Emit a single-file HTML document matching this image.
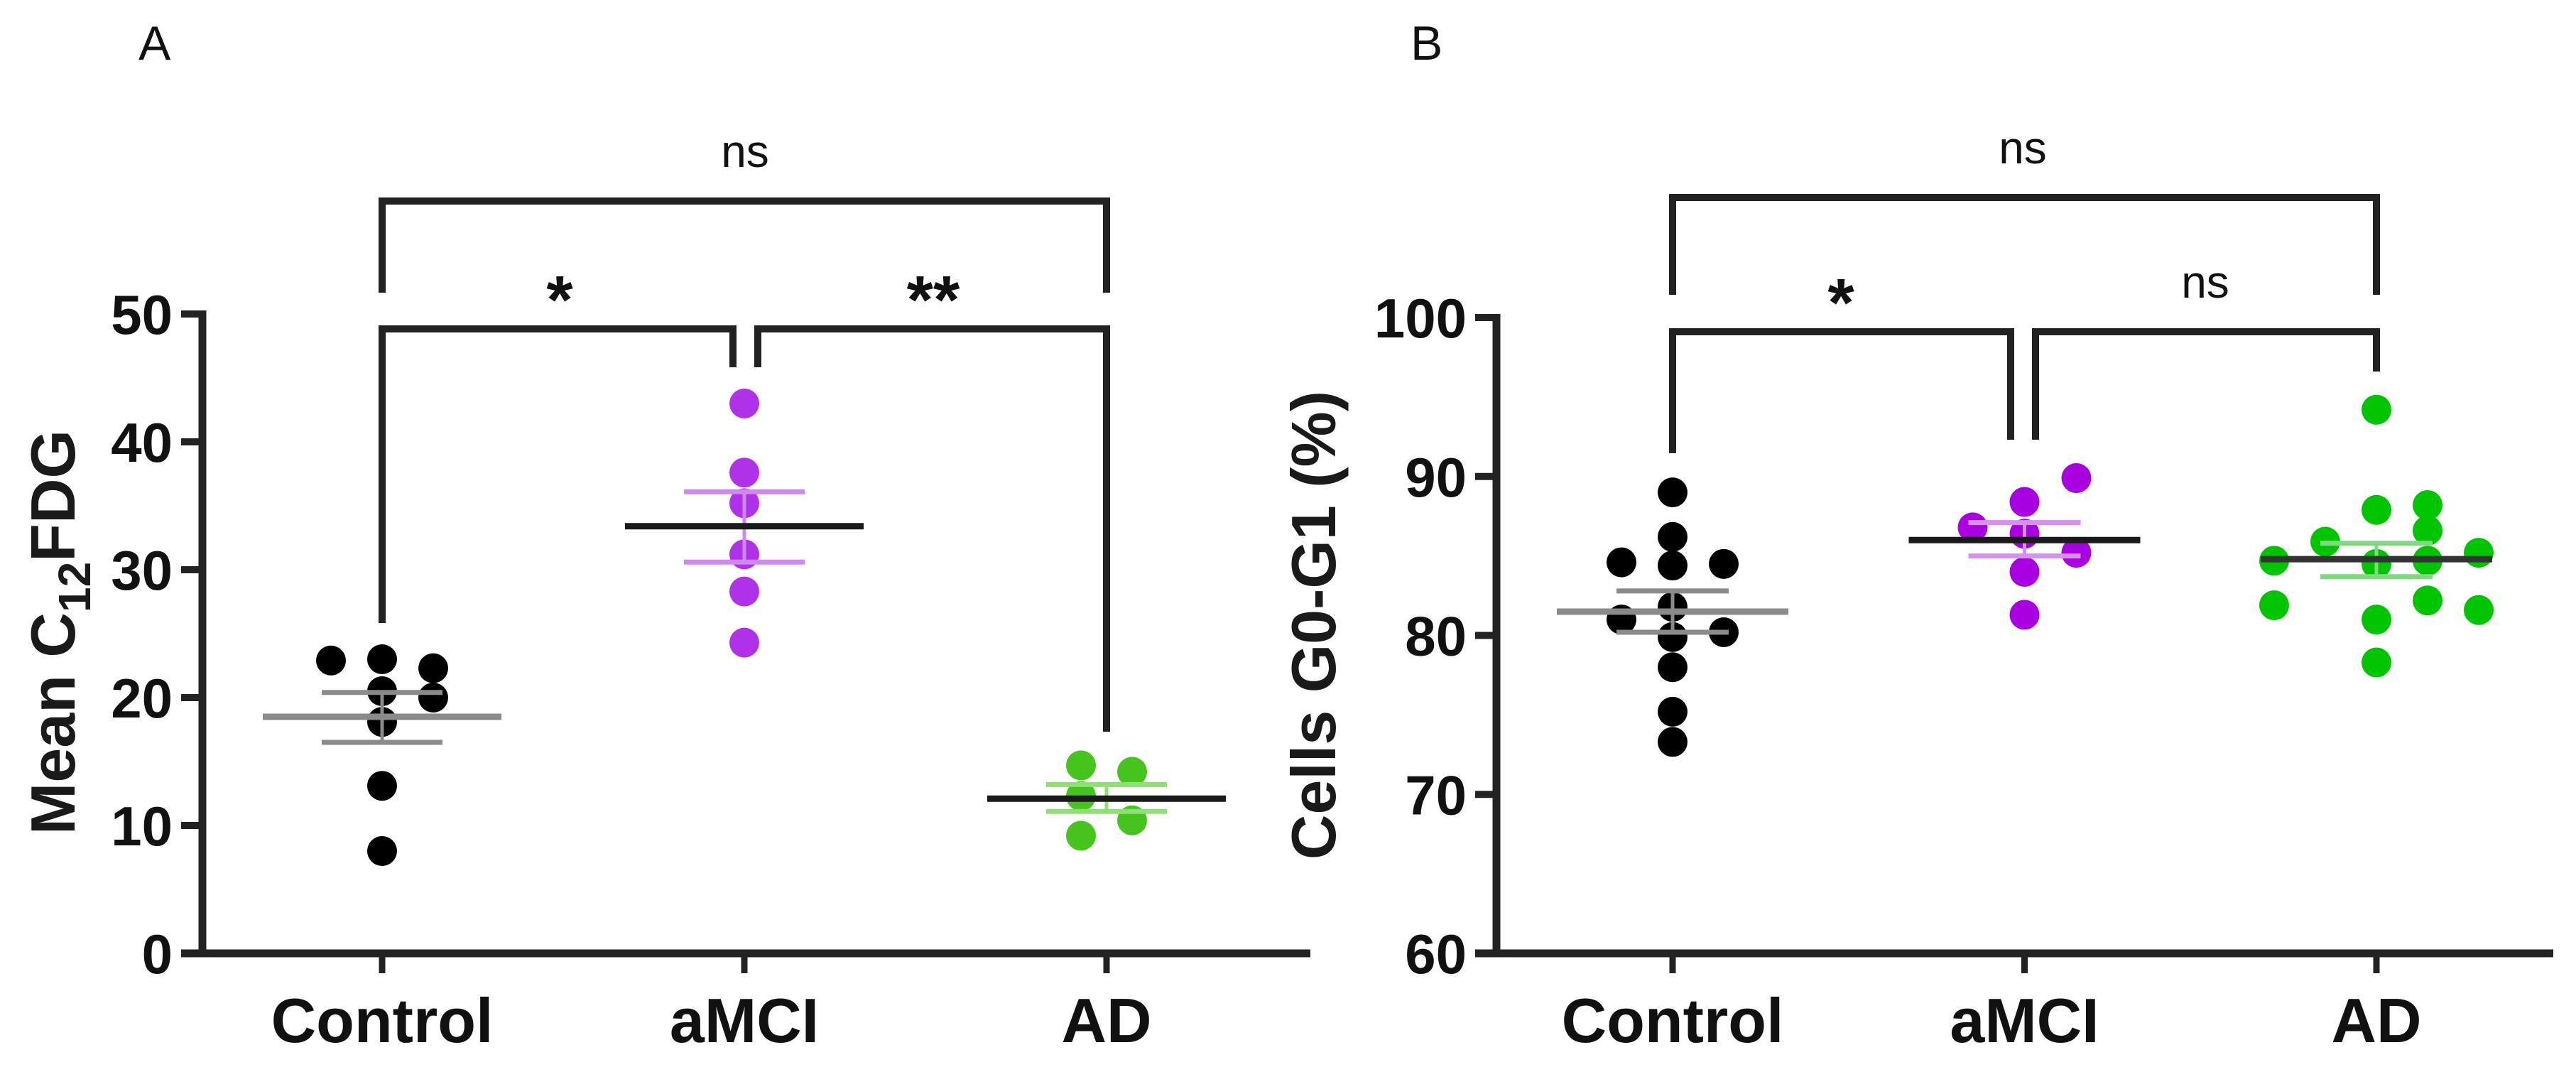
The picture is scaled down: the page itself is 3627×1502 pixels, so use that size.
<!DOCTYPE html>
<html><head><meta charset="utf-8"><style>
html,body{margin:0;padding:0;background:#fff;}
svg{display:block;font-family:"Liberation Sans",Arial,sans-serif;}
</style></head><body>
<svg id="fig" width="3627" height="1502" viewBox="0 0 3627 1502" xmlns="http://www.w3.org/2000/svg">
<rect width="3627" height="1502" fill="#fff"/>
<g id="pa"></g>
<g id="pb"></g>
</svg>
<script>
// ---- data ----
const categories = ["Control", "aMCI", "AD"];
// Panel A: Mean C12FDG
const aTicks = [0, 10, 20, 30, 40, 50];
const aControl = [22.9, 23.0, 22.3, 20.5, 20.0, 18.1, 13.1, 8.0];
const aControlSlot = [-1, 0, 1, 0, 1, 0, 0, 0];
const aMCI = [43.0, 37.6, 35.2, 31.2, 28.3, 24.3];
const aMCISlot = [0, 0, 0, 0, 0, 0];
const aAD = [14.7, 14.2, 12.3, 10.4, 9.2];
const aADSlot = [-0.5, 0.5, -0.5, 0.5, -0.5];
const aMeans = [18.5, 33.4, 12.1];
const aSemHi = [20.4, 36.1, 13.2];
const aSemLo = [16.5, 30.6, 11.1];
// Panel B: Cells G0-G1 (%)
const bTicks = [60, 70, 80, 90, 100];
const bControl = [89.0, 86.2, 84.6, 84.4, 84.5, 81.8, 81.0, 79.9, 80.2, 78.0, 75.2, 73.3];
const bControlSlot = [0, 0, -1, 0, 1, 0, -1, 0, 1, 0, 0, 0];
const bMCI = [89.9, 88.4, 86.8, 86.4, 85.2, 84.0, 81.3];
const bMCISlot = [1, 0, -1, 0, 1, 0, 0];
const bAD = [94.2, 87.9, 88.2, 86.6, 85.9, 84.7, 84.5, 84.7, 85.2, 81.9, 82.2, 81.6, 81.0, 78.3];
const bADSlot = [0, 0, 1, 1, -1, -2, 0, 1, 2, -2, 1, 2, 0, 0];
const bMeans = [81.5, 86.0, 84.8];
const bSemHi = [82.8, 87.1, 85.8];
const bSemLo = [80.2, 85.0, 83.7];

const NS = "http://www.w3.org/2000/svg";
function mk(parent, tag, attrs, text) {
  const e = document.createElementNS(NS, tag);
  for (const k in attrs) e.setAttribute(k, attrs[k]);
  if (text !== undefined) e.textContent = text;
  parent.appendChild(e);
  return e;
}

function panel(g, cfg) {
  const y = v => cfg.y0 + (v - cfg.vmin) / (cfg.vmax - cfg.vmin) * (cfg.y1 - cfg.y0);
  const x = i => cfg.xc[0] + i * cfg.step;
  const L = mk(g, "text", {x: cfg.letterX, y: 84, "font-size": 68, fill: "#111"}, cfg.letter);
  
  
  const T = mk(g, "text", {x: 0, y: 0, "font-size": 88, "font-weight": "bold", fill: "#1a1a1a", "text-anchor": "middle",
    transform: `translate(${cfg.titleX},${cfg.titleY}) rotate(-90)`});
  
  
  if (cfg.letter === "A") {
    mk(T, "tspan", {}, "Mean C");
    mk(T, "tspan", {"font-size": 64, dy: 22}, "12");
    mk(T, "tspan", {dy: -22}, "FDG");
  } else T.textContent = cfg.title;
  const yAx = mk(g, "line", {x1: cfg.ax, x2: cfg.ax, y1: y(cfg.vmax) - 5, y2: cfg.y0 + 5, stroke: "#222", "stroke-width": 11});
  
  
  const xAx = mk(g, "line", {x1: cfg.ax - 30, x2: cfg.axEnd, y1: cfg.y0, y2: cfg.y0, stroke: "#222", "stroke-width": 11});
  
  
  cfg.ticks.forEach(t => {
    const tl = mk(g, "line", {x1: cfg.ax - 30, x2: cfg.ax, y1: y(t), y2: y(t), stroke: "#222", "stroke-width": 10});
    
    
    const tx = mk(g, "text", {x: cfg.ax - 42, y: y(t) + 28, "font-size": 78, "font-weight": "bold", "text-anchor": "end", fill: "#111"}, String(t));
    
    
  });
  categories.forEach((c, i) => {
    const tl = mk(g, "line", {x1: x(i), x2: x(i), y1: cfg.y0, y2: cfg.y0 + 28, stroke: "#222", "stroke-width": 9});
    
    
    const tx = mk(g, "text", {x: x(i), y: 1467, "font-size": 88, "font-weight": "bold", "text-anchor": "middle", fill: "#111"}, c);
    
    
  });
  cfg.groups.forEach((grp, i) => {
    grp.vals.forEach((v, j) => {
      const d = mk(g, "circle", {cx: x(i) + grp.slots[j] * cfg.off[i], cy: y(v), r: 21, fill: cfg.colors[i]});
      
      
    });
  });
  categories.forEach((c, i) => {
    const sc = cfg.semColors[i];
    const v = mk(g, "line", {x1: x(i), x2: x(i), y1: y(cfg.semHi[i]), y2: y(cfg.semLo[i]), stroke: sc, "stroke-width": 5});
    
    
    [cfg.semHi[i], cfg.semLo[i]].forEach(s => {
      const l = mk(g, "line", {x1: x(i) - cfg.semW, x2: x(i) + cfg.semW, y1: y(s), y2: y(s), stroke: sc, "stroke-width": 7});
      
      
    });
    const m = mk(g, "line", {x1: x(i) - cfg.meanW, x2: x(i) + cfg.meanW, y1: y(cfg.means[i]), y2: y(cfg.means[i]), stroke: cfg.meanColors[i], "stroke-width": 9});
    
    
  });
  cfg.brackets.forEach(b => {
    const p = mk(g, "polyline", {points: `${b.x1},${b.l1} ${b.x1},${b.top} ${b.x2},${b.top} ${b.x2},${b.l2}`, fill: "none", stroke: "#222", "stroke-width": 10});
    
    
    const bold = b.label.indexOf("*") >= 0;
    const t = mk(g, "text", {x: b.lx, y: bold ? b.top - 8 : b.top - 48, "font-size": bold ? 96 : 64, "font-weight": bold ? "bold" : "normal", "text-anchor": "middle", fill: "#111"}, b.label);
    
    
  });
}

panel(document.getElementById("pa"), {
  letter: "A", letterX: 195, titleX: 105, titleY: 890, title: "Mean C12FDG",
  ax: 285, axEnd: 1845, y0: 1342, y1: 442, vmin: 0, vmax: 50, ticks: aTicks,
  xc: [538], step: 510, off: [72, 0, 72],
  groups: [{vals: aControl, slots: aControlSlot}, {vals: aMCI, slots: aMCISlot}, {vals: aAD, slots: aADSlot}],
  colors: ["#000", "#b032e8", "#44c41c"],
  semColors: ["#8a8a8a", "#cf88f0", "#8ee070"],
  meanColors: ["#8a8a8a", "#1a1a1a", "#1a1a1a"],
  means: aMeans, semHi: aSemHi, semLo: aSemLo, semW: 85, meanW: 168,
  brackets: [
    {x1: 538, x2: 1558, top: 283, l1: 412, l2: 412, label: "ns", lx: 1049},
    {x1: 538, x2: 1032, top: 463, l1: 877, l2: 517, label: "*", lx: 788},
    {x1: 1067, x2: 1558, top: 463, l1: 517, l2: 1030, label: "**", lx: 1314}
  ]
});
panel(document.getElementById("pb"), {
  letter: "B", letterX: 1986, titleX: 1880, titleY: 880, title: "Cells G0-G1 (%)",
  ax: 2107, axEnd: 3595, y0: 1342, y1: 447, vmin: 60, vmax: 100, ticks: bTicks,
  xc: [2355], step: 495.5, off: [72, 73, 72],
  groups: [{vals: bControl, slots: bControlSlot}, {vals: bMCI, slots: bMCISlot}, {vals: bAD, slots: bADSlot}],
  colors: ["#000", "#a800e0", "#00c400"],
  semColors: ["#8a8a8a", "#d890f0", "#80d880"],
  meanColors: ["#8a8a8a", "#1a1a1a", "#333"],
  means: bMeans, semHi: bSemHi, semLo: bSemLo, semW: 79, meanW: 163,
  brackets: [
    {x1: 2355, x2: 3346, top: 278, l1: 415, l2: 415, label: "ns", lx: 2848},
    {x1: 2355, x2: 2831, top: 467, l1: 638, l2: 619, label: "*", lx: 2592},
    {x1: 2866, x2: 3346, top: 467, l1: 619, l2: 523, label: "ns", lx: 3105}
  ]
});
</script>
</body></html>
